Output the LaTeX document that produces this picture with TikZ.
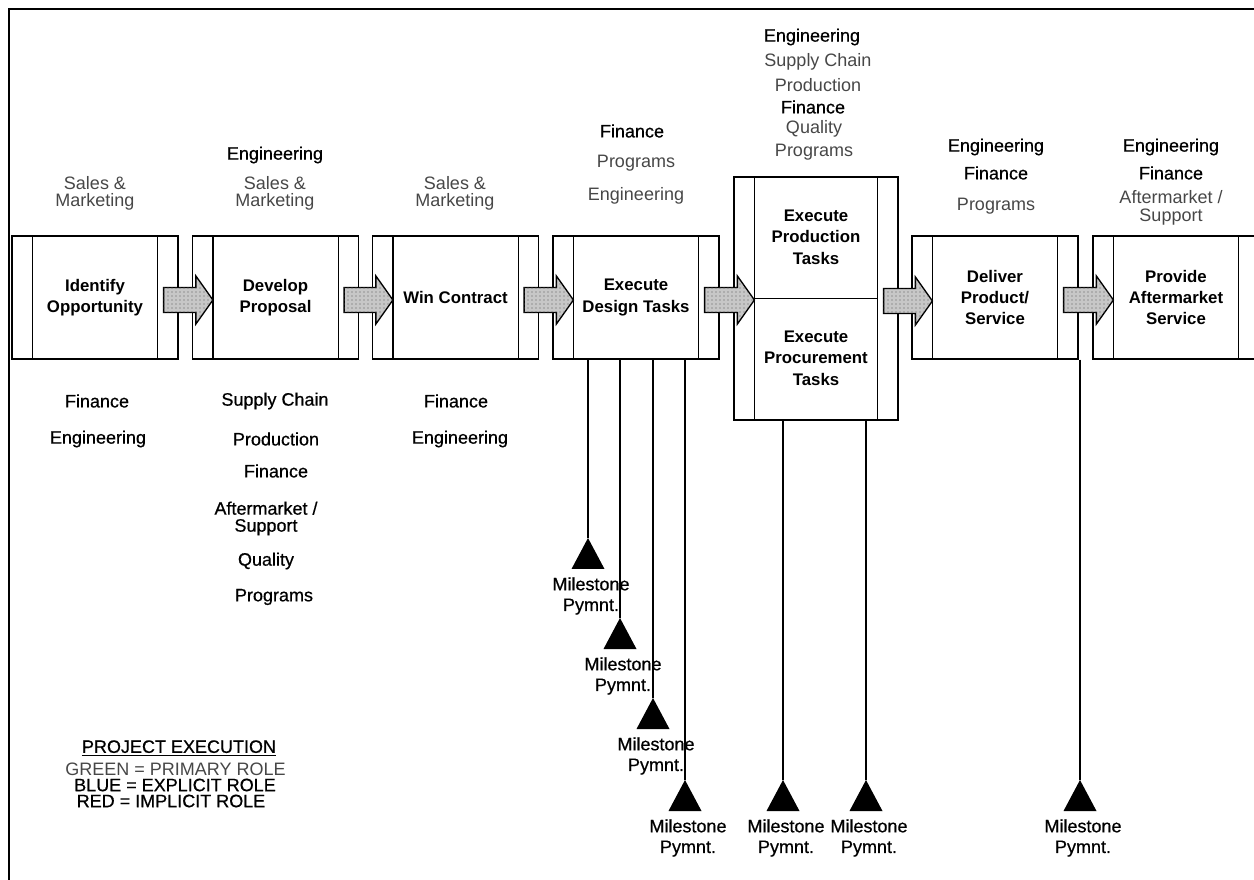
\documentclass[tikz,border=0pt]{standalone}
\usepackage{fontspec}
\setmainfont{Liberation Sans}
\newfontfamily\heavyfont{Liberation Sans}[FakeBold=0.6]
\usetikzlibrary{calc,patterns}

\begin{document}
\begin{tikzpicture}[x=0.75pt,y=-0.75pt,
  stepbox/.style={draw,line width=0.9pt,minimum width=124.5pt,minimum height=92.25pt,
    inner sep=0pt,align=center,font=\fontsize{12.6}{16}\selectfont\bfseries},
  steplabel/.style={inner sep=0pt,align=center,font=\fontsize{12.6}{16}\selectfont\bfseries},
  divider/.style={line width=0.9pt},
  greenrole/.style={inner sep=0pt,align=center,text=black!72,font=\fontsize{13.5}{12.75}\selectfont},
  bluerole/.style={greenrole,text=black,font=\fontsize{13.5}{12.75}\heavyfont},
  redrole/.style={bluerole},
  flowarrow/.style={draw,line width=1pt,fill=black!22,
    postaction={pattern=dots,pattern color=black!65}},
  msline/.style={line width=2pt},
  mslabel/.style={inner sep=0pt,align=center,font=\fontsize{13.5}{15.5}\heavyfont},
  legend/.style={inner sep=0pt,font=\fontsize{13.5}{12}\heavyfont}
]
\useasboundingbox (0,0) rectangle (1254,880);
\clip (0,0) rectangle (1254,880);

% frame
\draw[line width=1.6pt] (9,880) -- (9,9) -- (1254,9);

% process steps
\node[stepbox] (b1) at (95,297.5)   {Identify\\Opportunity};
\node[stepbox] (b2) at (275.5,297.5) {Develop\\Proposal};
\node[stepbox] (b3) at (455.5,297.5) {Win Contract};
\node[stepbox] (b4) at (636,297.5)  {Execute\\Design Tasks};
\node[stepbox,minimum height=182.25pt,minimum width=123pt] (b5) at (816,298.5) {};
\node[stepbox] (b6) at (995,297.5)  {Deliver\\Product/\\Service};
\node[stepbox] (b7) at (1176,297.5) {Provide\\Aftermarket\\Service};
\node[steplabel] (p5) at (816,237) {Execute\\Production\\Tasks};
\node[steplabel] (q5) at (816,358) {Execute\\Procurement\\Tasks};

% side strips of every step
\foreach \b in {b1,b2,b3,b4,b5,b6,b7}{
  \draw[divider] ([xshift=15.75pt]\b.north west) -- ([xshift=15.75pt]\b.south west);
  \draw[divider] ([xshift=-15.75pt]\b.north east) -- ([xshift=-15.75pt]\b.south east);
}
\draw[divider] ([xshift=15.75pt]b5.west) -- ([xshift=-15.75pt]b5.east);

% block arrows between steps
\newcommand\flowstep[2]{%
  \path[flowarrow] let \p1=($(#1.east)+(-15,2.5)$), \p2=($(#2.west)+(21,2.5)$) in
    (\x1,\y1+9.375pt) -- (\x2-12.75pt,\y1+9.375pt) -- (\x2-12.75pt,\y1+18pt)
    -- (\x2,\y1) -- (\x2-12.75pt,\y1-18pt) -- (\x2-12.75pt,\y1-9.375pt)
    -- (\x1,\y1-9.375pt) -- cycle;}
\flowstep{b1}{b2}
\flowstep{b2}{b3}
\flowstep{b3}{b4}
\flowstep{b4}{b5}
\flowstep{b5}{b6}
\flowstep{b6}{b7}

% roles above the steps
\node[greenrole] (r1a) at (95,193.5)  {Sales \&\\Marketing};
\node[bluerole]  (r2a) at (275,155)   {Engineering};
\node[greenrole] (r2b) at (275,193.5) {Sales \&\\Marketing};
\node[greenrole] (r3a) at (455,193.5) {Sales \&\\Marketing};
\node[bluerole]  (r4a) at (632,131)   {Finance};
\node[greenrole] (r4b) at (636,163)   {Programs};
\node[greenrole] (r4c) at (636,196)   {Engineering};
\node[bluerole]  (r5a) at (812,37)    {Engineering};
\node[greenrole] (r5b) at (818,62)    {Supply Chain};
\node[greenrole] (r5c) at (818,85)    {Production};
\node[bluerole]  (r5d) at (813,107)   {Finance};
\node[greenrole] (r5e) at (814,129)   {Quality};
\node[greenrole] (r5f) at (814,152)   {Programs};
\node[bluerole]  (r6a) at (996,147)   {Engineering};
\node[bluerole]  (r6b) at (996,173)   {Finance};
\node[greenrole] (r6c) at (996,206)   {Programs};
\node[bluerole]  (r7a) at (1171,147)  {Engineering};
\node[bluerole]  (r7b) at (1171,173)  {Finance};
\node[greenrole] (r7c) at (1171,197)  {Aftermarket /};
\node[greenrole] (r7d) at (1171,217)  {Support};

% roles below the steps
\node[redrole] (s1a) at (97,401)  {Finance};
\node[redrole] (s1b) at (98,439)  {Engineering};
\node[redrole] (s2a) at (275,401) {Supply Chain};
\node[redrole] (s2b) at (276,439) {Production};
\node[redrole] (s2c) at (276,471) {Finance};
\node[redrole] (s2d) at (266,518.5) {Aftermarket /\\Support};
\node[redrole] (s2e) at (266,561) {Quality};
\node[redrole] (s2f) at (274,597) {Programs};
\node[redrole] (s3a) at (456,401) {Finance};
\node[redrole] (s3b) at (460,439) {Engineering};

% milestone payments
\foreach \n/\x/\y/\b in {1/588/538/b4,2/620/618/b4,3/653/698/b4,4/685/780/b4,
                         5/783/780/b5,6/866/780/b5,7/1080/780/b6}{
  \coordinate (t\n) at (\x,\y);
  \node[mslabel,anchor=north] (ml\n) at (\x+3,\y+39) {Milestone\\Pymnt.};
  \draw[msline] (t\n |- \b.south) -- (t\n);
  \fill (t\n) -- ++(-16.5,31) -- ++(33,0) -- cycle;
}

% legend
\node[legend] (lgt) at (179,748) {\underline{PROJECT EXECUTION}};
\node[legend,text=black!72,font=\fontsize{13.5}{12}\selectfont] (lg1) at (175.5,769) {GREEN = PRIMARY ROLE};
\node[legend] (lg2) at (175,785) {BLUE = EXPLICIT ROLE};
\node[legend] (lg3) at (171,801) {RED = IMPLICIT ROLE};
\end{tikzpicture}
\end{document}
